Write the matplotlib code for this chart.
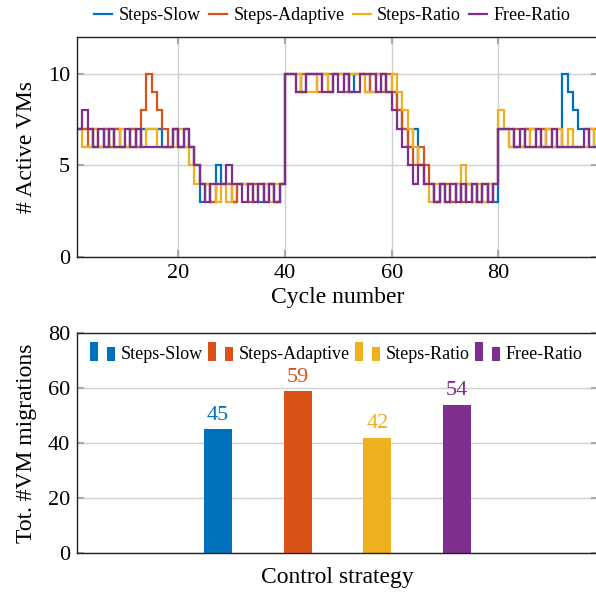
import numpy as np
import matplotlib
matplotlib.use("Agg")
import matplotlib.pyplot as plt
from matplotlib.lines import Line2D
from matplotlib.patches import Rectangle
from matplotlib.legend_handler import HandlerBase

plt.rcParams['font.family'] = ['Liberation Serif', 'DejaVu Serif']

names = ['Steps-Slow', 'Steps-Adaptive', 'Steps-Ratio', 'Free-Ratio']
colors = ['#0072BD', '#D95319', '#EDB120', '#7E2F8E']

# active VMs per cycle (cycles 1..98)
steps_slow = [7, 7, 7, 6, 6, 7, 6, 7, 6, 6,
              7, 6, 7, 7, 7, 7, 6, 6, 7, 6,
              7, 6, 5, 3, 4, 3, 5, 4, 4, 3,
              4, 4, 4, 4, 3, 4, 4, 3, 4, 10,
              10, 10, 9, 10, 10, 10, 10, 9, 10, 10,
              10, 9, 10, 10, 10, 9, 10, 10, 9, 9,
              8, 7, 6, 7, 5, 4, 4, 3, 4, 3,
              3, 4, 3, 4, 3, 4, 3, 4, 3, 7,
              7, 7, 6, 6, 7, 7, 6, 6, 7, 6,
              6, 10, 9, 8, 7, 7, 7, 6]
steps_adaptive = [7, 7, 6, 7, 6, 7, 6, 7, 6, 6,
                  7, 6, 8, 10, 9, 8, 7, 6, 7, 6,
                  6, 6, 5, 4, 4, 3, 4, 4, 4, 3,
                  4, 4, 3, 4, 4, 3, 4, 3, 4, 10,
                  10, 9, 10, 10, 10, 9, 10, 10, 10, 10,
                  9, 10, 10, 10, 9, 10, 10, 9, 10, 9,
                  8, 7, 6, 5, 6, 5, 4, 3, 4, 4,
                  3, 4, 3, 4, 4, 3, 4, 3, 4, 7,
                  7, 6, 7, 6, 7, 6, 6, 7, 6, 6,
                  7, 6, 6, 6, 6, 6, 7, 7]
steps_ratio = [7, 6, 6, 7, 6, 6, 7, 6, 7, 6,
               6, 7, 6, 7, 7, 6, 6, 6, 6, 7,
               6, 5, 4, 4, 4, 4, 3, 4, 3, 4,
               4, 4, 4, 3, 4, 4, 3, 4, 4, 10,
               10, 10, 9, 9, 9, 10, 10, 9, 10, 10,
               10, 10, 10, 10, 9, 9, 10, 10, 9, 10,
               9, 8, 7, 6, 5, 4, 3, 4, 4, 3,
               4, 4, 5, 4, 3, 4, 3, 4, 4, 8,
               7, 6, 6, 6, 6, 7, 7, 6, 7, 6,
               7, 6, 7, 6, 6, 6, 7, 6]
free_ratio = [7, 8, 7, 6, 7, 6, 7, 6, 6, 7,
              6, 7, 6, 6, 6, 6, 6, 6, 7, 6,
              7, 6, 5, 4, 3, 4, 4, 4, 5, 4,
              4, 3, 4, 3, 4, 3, 4, 3, 4, 10,
              10, 9, 9, 10, 10, 10, 9, 9, 10, 9,
              10, 9, 9, 10, 10, 10, 9, 10, 9, 8,
              7, 6, 5, 4, 5, 4, 4, 3, 4, 3,
              4, 3, 4, 3, 4, 3, 4, 3, 4, 7,
              7, 7, 6, 7, 6, 6, 7, 6, 6, 7,
              6, 6, 6, 6, 6, 7, 6, 6]
series = [steps_slow, steps_adaptive, steps_ratio, free_ratio]

migrations = [45, 59, 42, 54]

grid_c = '#d0d0d0'


class TwoBars(HandlerBase):
    # pgfplots-style ybar legend icon: two small bars
    def create_artists(self, legend, orig, x0, y0, w, h, fontsize, trans):
        c = orig.get_facecolor()
        bw = w * 0.32
        r1 = Rectangle((x0, y0 - 0.2 * h), bw, 1.55 * h, facecolor=c,
                       edgecolor='none', transform=trans)
        r2 = Rectangle((x0 + w - bw, y0 - 0.2 * h), bw, 1.15 * h, facecolor=c,
                       edgecolor='none', transform=trans)
        return [r1, r2]


def style_axes(ax):
    for s in ax.spines.values():
        s.set_color('#222222')
        s.set_linewidth(1.0)
    ax.tick_params(direction='in', length=5, width=1.5, color='#aaaaaa',
                   labelsize=16, top=True, right=True, pad=5)
    ax.grid(True, color=grid_c, linewidth=1.0)
    ax.set_axisbelow(True)


fig = plt.figure(figsize=(5.96, 5.96), dpi=100)

# top: active VMs
ax1 = fig.add_axes([77 / 596, 1 - 257 / 596, 521 / 596, 220 / 596])
edges = np.arange(1, len(free_ratio) + 2)
for vals, col, name in zip(series, colors, names):
    ax1.stairs(vals, edges, baseline=None, color=col, linewidth=1.6, label=name)
ax1.set_xlim(1, 98.7)
ax1.set_ylim(0, 12)
ax1.set_xticks([20, 40, 60, 80])
ax1.set_yticks([0, 5, 10])
style_axes(ax1)
ax1.set_xlabel('Cycle number', fontsize=17, labelpad=3)
ax1.set_ylabel('# Active VMs', fontsize=17, labelpad=8)
handles = [Line2D([], [], color=c, linewidth=1.6) for c in colors]
ax1.legend(handles, names, loc='lower center', bbox_to_anchor=(0.49, 1.0),
           ncol=4, frameon=False, fontsize=13, handlelength=1.0,
           handletextpad=0.35, columnspacing=0.45, borderpad=0.2)

# bottom: total migrations
ax2 = fig.add_axes([77 / 596, 1 - 553 / 596, 521 / 596, 220 / 596])
xpos = (np.arange(len(migrations)) - 1.5) * 0.306
bars = ax2.bar(xpos, migrations, width=0.108, color=colors, label=names)
for b, v, col in zip(bars, migrations, colors):
    ax2.text(b.get_x() + b.get_width() / 2, v + 1.5, str(v), ha='center',
             va='bottom', color=col, fontsize=16)
ax2.set_xlim(-1, 1.0)
ax2.set_ylim(0, 80)
ax2.set_xticks([])
ax2.set_yticks([0, 20, 40, 60, 80])
style_axes(ax2)
ax2.grid(False, axis='x')
ax2.set_xlabel('Control strategy', fontsize=17, labelpad=10)
ax2.set_ylabel('Tot. #VM migrations', fontsize=17, labelpad=8)
ax2.legend(bars, names, loc='upper left', bbox_to_anchor=(0.0, 1.0), ncol=4,
           frameon=False, fontsize=13, handler_map={Rectangle: TwoBars()},
           handlelength=1.4, handletextpad=0.3, columnspacing=0.3,
           borderaxespad=0.3)

fig.savefig('out.png', dpi=100)
